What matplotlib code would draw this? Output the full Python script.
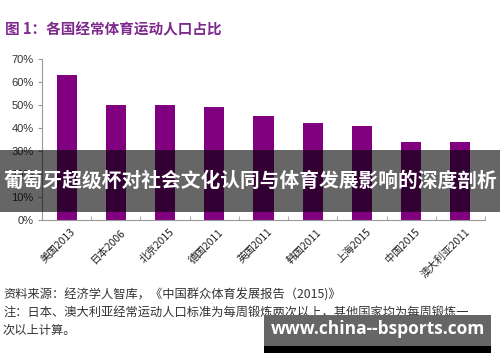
import matplotlib
matplotlib.use('Agg')
import matplotlib.pyplot as plt
from matplotlib.patches import Rectangle
import numpy as np

plt.rcParams['font.family'] = ['Noto Sans CJK SC', 'DejaVu Sans']

categories = ['美国2013', '日本2006', '北京2015', '德国2011', '英国2011',
              '韩国2011', '上海2015', '中国2015', '澳大利亚2011']
shares = [0.63, 0.50, 0.50, 0.49, 0.45, 0.42, 0.41, 0.34, 0.338]
yticks = [0, 0.1, 0.2, 0.3, 0.4, 0.5, 0.6, 0.7]

fig = plt.figure(figsize=(5, 3.62), dpi=100)
ax = fig.add_axes([0.084, 0.392, 0.886, 0.446])

x = np.arange(len(categories))
ax.bar(x, shares, width=0.41, color='#800080', zorder=2)
ax.set_xlim(-0.5, len(categories) - 0.5)
ax.set_ylim(0, 0.7)
ax.set_yticks(yticks)
ax.set_yticklabels(['%d%%' % round(v * 100) for v in yticks], fontsize=8, color='#333333',
                   family=['Liberation Sans', 'DejaVu Sans'])
ax.set_xticks(x + 0.08)
ax.set_xticklabels(categories, rotation=45, ha='right', va='top', rotation_mode='anchor',
                   fontsize=7.5, color='#222222')
ax.tick_params(axis='x', length=0, pad=5)
ax.set_xticks(np.arange(len(categories) + 1) - 0.5, minor=True)
ax.tick_params(axis='x', which='minor', direction='in', length=3, color='#999999')
ax.tick_params(axis='y', length=3, color='#999999', pad=3)
for s in ['top', 'right']:
    ax.spines[s].set_visible(False)
for s in ['left', 'bottom']:
    ax.spines[s].set_color('#999999')
    ax.spines[s].set_linewidth(0.8)

# title and notes
fig.text(0.01, 0.92, '图 1：各国经常体育运动人口占比', fontsize=10.5, fontweight='bold',
         color='#7d2a8c', va='center')
fig.text(0.006, 0.185, '资料来源：经济学人智库，《中国群众体育发展报告（2015)》',
         fontsize=8.8, color='#333333', va='center')
fig.text(0.006, 0.135, '注：日本、澳大利亚经常运动人口标准为每周锻炼两次以上，其他国家均为每周锻炼一',
         fontsize=8.8, color='#333333', va='center')
fig.text(0.006, 0.088, '次以上计算。', fontsize=8.8, color='#333333', va='center')

# overlay banner
fig.patches.append(Rectangle((0, 0.414), 1, 0.172, transform=fig.transFigure,
                             facecolor='black', alpha=0.6, zorder=5))
fig.text(0.5, 0.5, '葡萄牙超级杯对社会文化认同与体育发展影响的深度剖析', fontsize=14.2,
         fontweight='bold', color='white', ha='center', va='center', zorder=6)

# watermark box
fig.patches.append(Rectangle((0.528, 0.025), 0.454, 0.105, transform=fig.transFigure,
                             facecolor='#666666', zorder=5))
fig.patches.append(Rectangle((0.528, 0.025), 0.454, 0.018, transform=fig.transFigure,
                             facecolor='black', zorder=5))
fig.text(0.755, 0.09, 'www.china--bsports.com', fontsize=12.5, fontweight='bold',
         color='white', ha='center', va='center', zorder=6,
         family=['Open Sans', 'DejaVu Sans'])

fig.savefig('out.png', dpi=100)
